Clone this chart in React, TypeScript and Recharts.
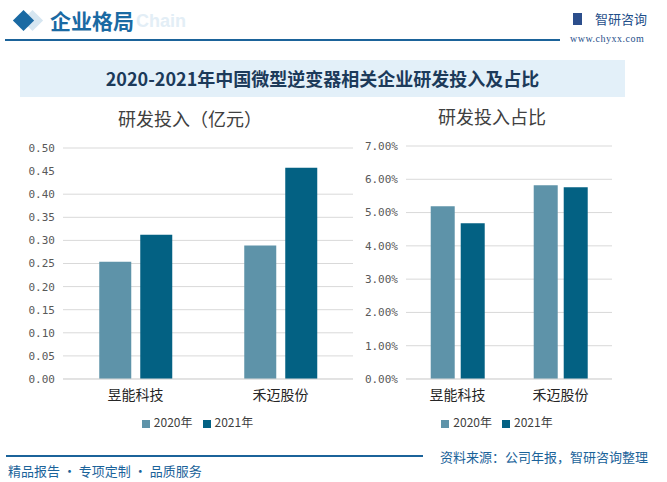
import React from "react";
import { Bar, BarChart, CartesianGrid, Legend, XAxis, YAxis } from "recharts";

const companies = ["昱能科技", "禾迈股份"];
const invest2020 = [0.254, 0.289];
const invest2021 = [0.312, 0.457];
const ratio2020 = [5.19, 5.82];
const ratio2021 = [4.68, 5.76];
const investTicks = [0, 0.05, 0.1, 0.15, 0.2, 0.25, 0.3, 0.35, 0.4, 0.45, 0.5];
const ratioTicks = [0, 1, 2, 3, 4, 5, 6, 7];

const C2020 = "#5e93a9";
const C2021 = "#036183";
const BLUE = "#1b639a";
const CJK = "'Noto Sans CJK SC', 'Noto Sans', sans-serif";

const investData = companies.map((name, i) => ({
  name,
  y2020: invest2020[i],
  y2021: invest2021[i],
}));
const ratioData = companies.map((name, i) => ({
  name,
  y2020: ratio2020[i],
  y2021: ratio2021[i],
}));

const tickStyle = { fontSize: 11, fill: "#595959", fontFamily: "'DejaVu Sans Mono', monospace" };
const xTickStyle = { fontSize: 14, fill: "#262626", fontFamily: CJK };
const legendStyle = { fontSize: 12, fontFamily: CJK, paddingLeft: 26 };
const legendText = (value: string) => <span style={{ color: "#404040" }}>{value}</span>;

const abs = (s: React.CSSProperties): React.CSSProperties => ({ position: "absolute", ...s });

export default function App() {
  return (
    <div style={abs({ left: 0, top: 0, width: 667, height: 482, background: "#fff", overflow: "hidden", fontFamily: CJK })}>
      {/* header */}
      <div style={abs({ left: 25, top: 13, width: 15, height: 15, background: "#d6e6f1", transform: "rotate(45deg)" })} />
      <div style={abs({ left: 16, top: 13, width: 15, height: 15, background: "#1a6aa3", transform: "rotate(45deg)" })} />
      <div style={abs({ left: 136, top: 11, fontSize: 18, fontWeight: 700, color: "#e3eef6", fontFamily: "'Liberation Sans', sans-serif" })}>Chain</div>
      <div style={abs({ left: 50, top: 5, fontSize: 21, fontWeight: 700, color: "#1a6aa3" })}>企业格局</div>
      <div style={abs({ left: 5, top: 39, width: 555, height: 2, background: BLUE })} />
      <div style={abs({ left: 573, top: 13, width: 9, height: 12, background: "#2c4e8c" })} />
      <div style={abs({ left: 595, top: 9, fontSize: 13, color: "#1f4f8a" })}>智研咨询</div>
      <div style={abs({ left: 570, top: 33, fontSize: 10, color: "#1f4f8a", fontFamily: "'Liberation Serif', serif", letterSpacing: 0.5 })}>www.chyxx.com</div>

      {/* title band */}
      <div style={abs({ left: 20, top: 60, width: 605, height: 37, background: "#e3f0f9" })} />
      <div style={abs({ left: 20, top: 60, width: 605, height: 37, lineHeight: "37px", textAlign: "center", fontSize: 18, fontWeight: 700, color: "#1c3a5a", fontFamily: "'Noto Sans CJK SC', serif" })}>
        2020-2021年中国微型逆变器相关企业研发投入及占比
      </div>

      {/* chart titles */}
      <div style={abs({ left: 90, top: 105, width: 200, textAlign: "center", fontSize: 18, color: "#404040" })}>研发投入（亿元）</div>
      <div style={abs({ left: 392, top: 103, width: 200, textAlign: "center", fontSize: 18, color: "#404040" })}>研发投入占比</div>

      <div style={abs({ left: 0, top: 140 })}>
        <BarChart width={360} height={295} data={investData} margin={{ top: 8, right: 7, left: 0, bottom: 5 }} barGap={9} barCategoryGap="25%">
          <CartesianGrid vertical={false} stroke="#d9d9d9" />
          <XAxis dataKey="name" tick={xTickStyle} tickLine={false} tickMargin={5} axisLine={{ stroke: "#d9d9d9" }} height={34} />
          <YAxis domain={[0, 0.5]} ticks={investTicks} tick={tickStyle} tickFormatter={(v: number) => v.toFixed(2)} axisLine={false} tickLine={false} width={63} />
          <Legend iconType="square" iconSize={8} wrapperStyle={legendStyle} formatter={legendText} />
          <Bar dataKey="y2020" name="2020年" fill={C2020} isAnimationActive={false} />
          <Bar dataKey="y2021" name="2021年" fill={C2021} isAnimationActive={false} />
        </BarChart>
      </div>

      <div style={abs({ left: 340, top: 140 })}>
        <BarChart width={280} height={295} data={ratioData} margin={{ top: 6, right: 8, left: 0, bottom: 5 }} barGap={6} barCategoryGap="24%">
          <CartesianGrid vertical={false} stroke="#d9d9d9" />
          <XAxis dataKey="name" tick={xTickStyle} tickLine={false} tickMargin={5} axisLine={{ stroke: "#d9d9d9" }} height={34} />
          <YAxis domain={[0, 7]} ticks={ratioTicks} tick={tickStyle} tickFormatter={(v: number) => `${v.toFixed(2)}%`} axisLine={false} tickLine={false} width={66} />
          <Legend iconType="square" iconSize={8} wrapperStyle={legendStyle} formatter={legendText} />
          <Bar dataKey="y2020" name="2020年" fill={C2020} isAnimationActive={false} />
          <Bar dataKey="y2021" name="2021年" fill={C2021} isAnimationActive={false} />
        </BarChart>
      </div>

      {/* footer */}
      <div style={abs({ left: 6, top: 455, width: 417, height: 2, background: BLUE })} />
      <div style={abs({ left: 8, top: 461, fontSize: 13, color: BLUE })}>精品报告 · 专项定制 · 品质服务</div>
      <div style={abs({ left: 440, top: 447, fontSize: 13, color: BLUE })}>资料来源：公司年报，智研咨询整理</div>
    </div>
  );
}
